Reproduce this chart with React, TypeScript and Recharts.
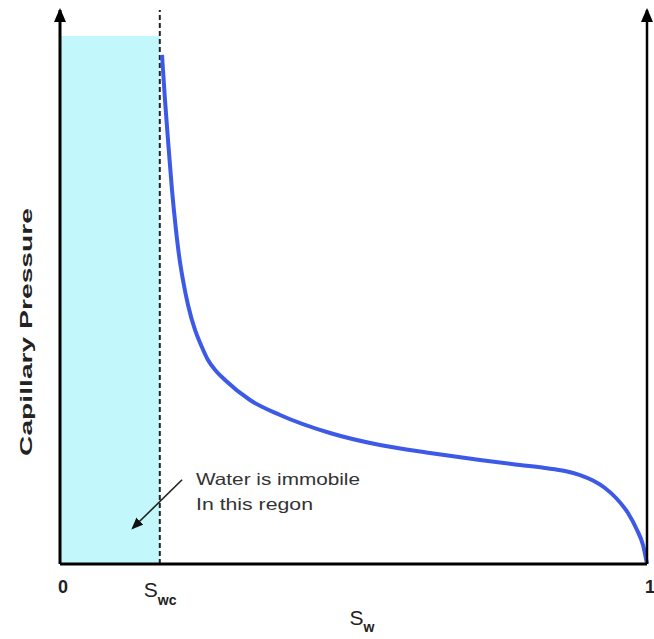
import React from "react";
import {
  LineChart,
  Line,
  XAxis,
  YAxis,
  ReferenceArea,
  ReferenceLine,
  ReferenceDot,
} from "recharts";

// Water saturation (fraction) and capillary pressure (relative units)
const swValues = [
  0.1738, 0.1789, 0.184, 0.1908, 0.1976, 0.2027, 0.2095, 0.2181, 0.23, 0.2402,
  0.2521, 0.2658, 0.2811, 0.3237, 0.3748, 0.46, 0.5451, 0.6303, 0.7155, 0.7836,
  0.8262, 0.8603, 0.8859, 0.908, 0.9284, 0.9489, 0.9676, 0.983, 0.9932, 1.0,
];
const pcValues = [
  0.9188, 0.8375, 0.7653, 0.6751, 0.6029, 0.5578, 0.5126, 0.4675, 0.4224,
  0.3953, 0.3682, 0.3484, 0.3321, 0.296, 0.269, 0.2365, 0.2148, 0.2004, 0.1877,
  0.1787, 0.1733, 0.1679, 0.1606, 0.1507, 0.1372, 0.1173, 0.0921, 0.0614,
  0.0343, 0,
];

const SWC = 0.17;
const xTicks = [0, SWC, 1];
const xTickLabels = ["0", "Swc", "1"];
const shadedTop = 0.953;
const yLabel = "Capillary Pressure";
const noteLines = ["Water is immobile", "In this regon"];
const notePos = { x: 0.2317, y: 0.1426 };
const noteArrow = [
  { x: 0.208, y: 0.152 },
  { x: 0.124, y: 0.065 },
];

const data = swValues.map((sw, i) => ({ sw, pc: pcValues[i] }));

const FONT = "'Liberation Sans', Arial, sans-serif";

const XTick = (props: any) => {
  const { x, y, payload } = props;
  const idx = xTicks.indexOf(payload.value);
  const label = xTickLabels[idx];
  if (label === "Swc") {
    return (
      <text x={x - 16} y={y + 25} fontFamily={FONT} fill="#222">
        <tspan fontSize={21}>S</tspan>
        <tspan fontSize={14} fontWeight="bold" dy={8}>
          wc
        </tspan>
      </text>
    );
  }
  return (
    <text
      x={x + 3}
      y={y + 21}
      textAnchor="middle"
      fontFamily={FONT}
      fontSize={18}
      fontWeight="bold"
      fill="#222"
    >
      {label}
    </text>
  );
};

const XLabel = (props: any) => {
  const { viewBox } = props;
  const cx = viewBox.x + viewBox.width / 2;
  const y = viewBox.y;
  return (
    <text x={cx - 4} y={y + 61} fontFamily={FONT} fill="#222">
      <tspan fontSize={21}>S</tspan>
      <tspan fontSize={14} fontWeight="bold" dy={7}>
        w
      </tspan>
    </text>
  );
};

const YLabel = (props: any) => {
  const { viewBox } = props;
  const cx = viewBox.x + 32;
  const cy = viewBox.y + viewBox.height / 2 + 45;
  return (
    <text
      x={cx}
      y={cy}
      transform={`rotate(-90, ${cx}, ${cy})`}
      textAnchor="middle"
      fontFamily={FONT}
      fontSize={17}
      fontWeight="bold"
      fill="#222"
      textLength={248}
      lengthAdjust="spacingAndGlyphs"
    >
      {yLabel}
    </text>
  );
};

const NoteShape = (p: any) => (
  <g>
    <text
      x={p.cx}
      y={p.cy}
      fontFamily={FONT}
      fontSize={16.5}
      fill="#333"
      textLength={164}
      lengthAdjust="spacingAndGlyphs"
    >
      {noteLines[0]}
    </text>
    <text
      x={p.cx}
      y={p.cy + 25}
      fontFamily={FONT}
      fontSize={16.5}
      fill="#333"
      textLength={117}
      lengthAdjust="spacingAndGlyphs"
    >
      {noteLines[1]}
    </text>
  </g>
);

const ArrowShape = (p: any) => (
  <line
    x1={p.x1}
    y1={p.y1}
    x2={p.x2}
    y2={p.y2}
    stroke="#222"
    strokeWidth={1.6}
    markerEnd="url(#noteArrow)"
  />
);

export default function App() {
  return (
    <div style={{ position: "absolute", left: 0, top: 0, background: "#fff" }}>
      <svg style={{ position: "absolute", width: 0, height: 0 }}>
        <defs>
          <marker
            id="axisArrow"
            viewBox="0 0 14 12"
            markerUnits="userSpaceOnUse"
            markerWidth={14}
            markerHeight={12}
            refX={12}
            refY={6}
            orient="auto-start-reverse"
          >
            <path d="M0,0 L14,6 L0,12 z" fill="#000" />
          </marker>
          <marker
            id="noteArrow"
            viewBox="0 0 12 10"
            markerUnits="userSpaceOnUse"
            markerWidth={12}
            markerHeight={10}
            refX={10}
            refY={5}
            orient="auto"
          >
            <path d="M0,0 L12,5 L0,10 z" fill="#111" />
          </marker>
        </defs>
      </svg>
      <LineChart
        width={654}
        height={639}
        data={data}
        margin={{ top: 10, right: 0, left: 0, bottom: 0 }}
      >
        <ReferenceArea
          x1={0}
          x2={SWC}
          y1={0}
          y2={shadedTop}
          fill="#c2f8fc"
          fillOpacity={1}
          stroke="none"
          ifOverflow="visible"
        />
        <XAxis
          dataKey="sw"
          type="number"
          domain={[0, 1]}
          ticks={xTicks}
          tick={<XTick />}
          tickLine={false}
          tickSize={6}
          tickMargin={2}
          height={75}
          interval={0}
          axisLine={{ stroke: "#000", strokeWidth: 3 }}
          label={<XLabel />}
        />
        <YAxis
          type="number"
          domain={[0, 1]}
          width={60}
          tick={false}
          tickLine={false}
          axisLine={{
            stroke: "#000",
            strokeWidth: 3,
            markerStart: "url(#axisArrow)",
          }}
          label={<YLabel />}
        />
        <YAxis
          yAxisId="r"
          orientation="right"
          type="number"
          domain={[0, 1]}
          width={7}
          tick={false}
          tickLine={false}
          axisLine={{
            stroke: "#000",
            strokeWidth: 2.5,
            markerStart: "url(#axisArrow)",
          }}
        />
        <ReferenceLine
          x={SWC}
          stroke="#222"
          strokeWidth={2}
          strokeDasharray="5 3"
        />
        <ReferenceLine segment={noteArrow} shape={ArrowShape} />
        <ReferenceDot
          x={notePos.x}
          y={notePos.y}
          r={0}
          shape={NoteShape}
        />
        <Line
          type="monotone"
          dataKey="pc"
          stroke="#3c5ae6"
          strokeWidth={4}
          dot={false}
          isAnimationActive={false}
        />
      </LineChart>
    </div>
  );
}
